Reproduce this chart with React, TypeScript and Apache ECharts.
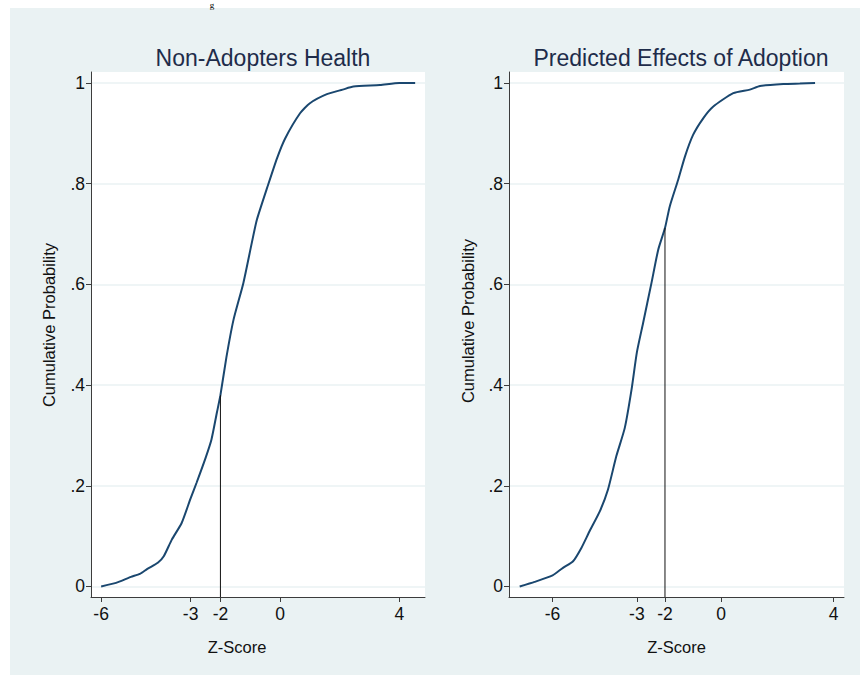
import React, { useEffect, useRef } from "react";
import * as echarts from "echarts";

const leftZ = [-6.0, -5.5, -5.0, -4.7, -4.45, -4.1, -3.9, -3.63, -3.3, -3.0, -2.8, -2.5, -2.3, -2.12, -2.0, -1.8, -1.56, -1.23, -0.95, -0.78, -0.4, -0.1, 0.17, 0.67, 1.0, 1.57, 2.1, 2.46, 3.35, 4.0, 4.53];
const leftP = [0, 0.007, 0.019, 0.025, 0.035, 0.047, 0.06, 0.093, 0.126, 0.175, 0.206, 0.255, 0.292, 0.345, 0.38, 0.455, 0.53, 0.603, 0.682, 0.728, 0.798, 0.851, 0.89, 0.94, 0.96, 0.978, 0.987, 0.993, 0.996, 1.0, 1.0];

// Predicted Effects of Adoption
const rightZ = [-7.17, -6.64, -6.0, -5.63, -5.27, -4.97, -4.68, -4.32, -4.03, -3.73, -3.43, -3.19, -3.0, -2.78, -2.48, -2.24, -2.0, -1.83, -1.53, -1.29, -1.0, -0.64, -0.29, 0.43, 1.02, 1.38, 2.21, 2.8, 3.34];
const rightP = [0, 0.009, 0.022, 0.037, 0.05, 0.077, 0.11, 0.149, 0.192, 0.259, 0.315, 0.391, 0.465, 0.523, 0.603, 0.669, 0.712, 0.755, 0.808, 0.854, 0.897, 0.93, 0.953, 0.98, 0.987, 0.994, 0.998, 0.999, 1.0];

// cut-off marker at Z = -2
const cutZ = -2;
const leftCutP = 0.38;
const rightCutP = 0.712;

const xTicks = [-6, -3, -2, 0, 4];
const yTicks = [0, 0.2, 0.4, 0.6, 0.8, 1];
const titles = ["Non-Adopters Health", "Predicted Effects of Adoption"];
const xTitle = "Z-Score";
const yTitle = "Cumulative Probability";

const FONT = "'Liberation Sans', Arial, sans-serif";
const BG = "#eaf2f3";
const LINE = "#1a476f";
const AXIS = "#3c3c3c";
const Y_MIN = -0.021;
const Y_MAX = 1.022;

const fmtY = (v: number) => {
  if (v === 0) return "0";
  if (v === 1) return "1";
  return String(Math.round(v * 10) / 10).replace(/^0\./, ".");
};

export default function App() {
  const ref = useRef<HTMLDivElement>(null);
  useEffect(() => {
    if (!ref.current) return;
    const chart = echarts.init(ref.current, null, { renderer: "svg" });

    const mkX = (gridIndex: number, min: number, max: number) => ({
      type: "value",
      gridIndex,
      min,
      max,
      axisLine: { show: true, onZero: false, lineStyle: { color: AXIS, width: 1 } },
      axisTick: { show: true, length: 5, customValues: xTicks, lineStyle: { color: AXIS } },
      axisLabel: { customValues: xTicks, fontSize: 17.5, color: "#111", margin: 8, fontFamily: FONT },
      splitLine: { show: false },
    });
    const mkY = (gridIndex: number) => ({
      type: "value",
      gridIndex,
      min: Y_MIN,
      max: Y_MAX,
      axisLine: { show: true, onZero: false, lineStyle: { color: AXIS, width: 1 } },
      axisTick: { show: true, length: 5, customValues: yTicks, lineStyle: { color: AXIS } },
      axisLabel: { customValues: yTicks, fontSize: 17.5, color: "#111", margin: 6, fontFamily: FONT, formatter: fmtY },
      splitLine: { show: true, lineStyle: { color: BG, width: 1.5 } },
    });

    const curve = (xi: number, zs: number[], ps: number[]) => ({
      type: "line", xAxisIndex: xi, yAxisIndex: xi, showSymbol: false, silent: true,
      smooth: 0.2,
      data: zs.map((z, i) => [z, ps[i]]),
      lineStyle: { color: LINE, width: 2 },
    });
    const cut = (xi: number, p: number) => ({
      type: "line", xAxisIndex: xi, yAxisIndex: xi, showSymbol: false, silent: true,
      data: [[cutZ, Y_MIN], [cutZ, p]],
      lineStyle: { color: "#111", width: 1 },
    });

    chart.setOption({
      animation: false,
      backgroundColor: "#ffffff",
      title: [
        { text: titles[0], left: 258, top: 41, textAlign: "center", textStyle: { fontSize: 23, fontWeight: "normal", color: "#1e2c4a", fontFamily: FONT } },
        { text: titles[1], left: 676, top: 41, textAlign: "center", textStyle: { fontSize: 23, fontWeight: "normal", color: "#1e2c4a", fontFamily: FONT } },
      ],
      grid: [
        { left: 91, top: 72, width: 334, height: 525, show: true, backgroundColor: "#ffffff", borderWidth: 0 },
        { left: 509, top: 72, width: 335, height: 525, show: true, backgroundColor: "#ffffff", borderWidth: 0 },
      ],
      xAxis: [mkX(0, -6.34, 4.86), mkX(1, -7.55, 4.37)],
      yAxis: [mkY(0), mkY(1)],
      graphic: [
        { type: "rect", z: -10, silent: true, shape: { x: 10, y: 8, width: 850, height: 667 }, style: { fill: BG } },
        { type: "text", x: 212, y: 0, silent: true, style: { text: "g", font: "9px 'Liberation Serif', 'Times New Roman', serif", fill: "#000", align: "center", verticalAlign: "top" } },
        { type: "text", x: 237, y: 647, silent: true, style: { text: xTitle, fontSize: 16.5, fontFamily: FONT, fill: "#111", align: "center", verticalAlign: "middle" } },
        { type: "text", x: 676.5, y: 647, silent: true, style: { text: xTitle, fontSize: 16.5, fontFamily: FONT, fill: "#111", align: "center", verticalAlign: "middle" } },
        { type: "text", x: 49, y: 325, rotation: Math.PI / 2, silent: true, style: { text: yTitle, fontSize: 16.5, fontFamily: FONT, fill: "#111", align: "center", verticalAlign: "middle" } },
        { type: "text", x: 467.5, y: 321, rotation: Math.PI / 2, silent: true, style: { text: yTitle, fontSize: 16.5, fontFamily: FONT, fill: "#111", align: "center", verticalAlign: "middle" } },
      ],
      series: [
        curve(0, leftZ, leftP),
        cut(0, leftCutP),
        curve(1, rightZ, rightP),
        cut(1, rightCutP),
      ],
    });
    return () => chart.dispose();
  }, []);

  return <div ref={ref} style={{ position: "absolute", left: 0, top: 0, width: 861, height: 675 }} />;
}
